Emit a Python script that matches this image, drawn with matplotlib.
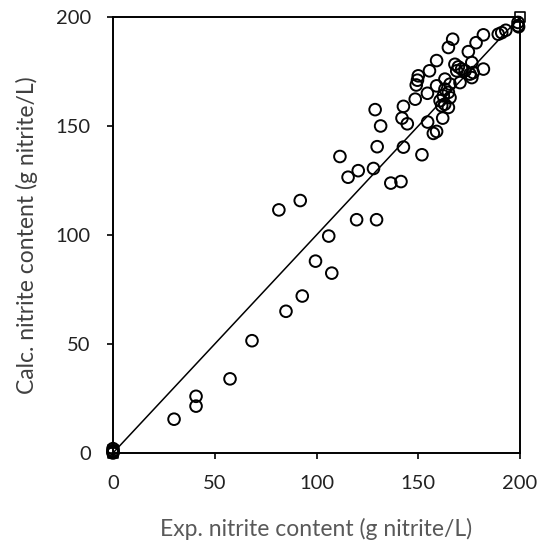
import matplotlib.pyplot as plt

plt.rcParams['font.family'] = ['Lato', 'DejaVu Sans']

exp_vals = [30, 40.8, 40.8, 57.5, 68.3, 85, 93, 99.5, 106, 107.5,
            81.5, 92, 111.5, 115.5, 119.7, 120.5, 128, 129.5, 128.8, 131.5,
            129.8, 136.5, 141.5, 142.7, 142, 144.6, 142.7, 151.8, 154.6, 157.4,
            159, 162, 148.5, 149, 149.6, 150, 154.5, 155.5, 159, 159,
            160.7, 161.5, 163, 164.8, 165.6, 163.1, 164.8, 162.3, 163.1, 165.6,
            164.8, 166.9, 168, 169.7, 171.3, 168.9, 173, 175.4, 177, 170.5,
            176.3, 176.3, 174.6, 178.4, 182, 182, 189.3, 191, 193, 199,
            199, 199.3, 0, 0, 0, 0]
calc_vals = [15.5, 21.5, 26, 34, 51.5, 65, 72, 88, 99.5, 82.5,
             111.5, 115.8, 136, 126.5, 107, 129.5, 130.5, 107, 157.5, 150,
             140.5, 123.8, 124.5, 159, 153.6, 151, 140.3, 136.8, 151.8, 146.6,
             147.5, 153.6, 162.3, 168.8, 171, 173, 165, 175.3, 168.4, 180,
             161.6, 159.3, 160, 158.5, 163, 166.9, 165.4, 163.8, 171.5, 169.2,
             186, 189.8, 178.3, 177.1, 176.1, 175.3, 175.3, 173.8, 174.5, 169.9,
             172.2, 179.1, 184.1, 188.2, 191.8, 176.1, 192.1, 192.8, 193.9, 196,
             197.5, 195.5, 0, 0.5, 1, 2]

sq_exp = [0, 0, 200]
sq_calc = [0, 1, 200]

line_x = [0, 200]
line_y = [0, 200]

fig = plt.figure(figsize=(5.55, 5.44), dpi=100)
ax = fig.add_axes([0.2036, 0.1673, 0.7334, 0.8015])

ax.plot(line_x, line_y, color='black', lw=1.1, zorder=1)
ax.scatter(exp_vals, calc_vals, s=70, facecolors='none', edgecolors='black',
           linewidths=1.4, zorder=2, clip_on=False)
ax.scatter(sq_exp, sq_calc, marker='s', s=60, facecolors='none',
           edgecolors='black', linewidths=1.2, zorder=3, clip_on=False)

ax.set_xlim(0, 200)
ax.set_ylim(0, 200)
ax.set_xticks([0, 50, 100, 150, 200])
ax.set_yticks([0, 50, 100, 150, 200])
for s in ax.spines.values():
    s.set_linewidth(1.4)
ax.tick_params(direction='out', length=4.5, width=1.2, labelsize=14.5,
               colors='black', pad=11.5)
for lab in ax.get_xticklabels() + ax.get_yticklabels():
    lab.set_color('#222222')

# axis titles placed in figure coords
fig.text(316.5 / 555, 1 - 536 / 544, 'Exp. nitrite content (g nitrite/L)',
         fontsize=16.5, color='#595959', ha='center', va='baseline')
fig.text(27 / 555, 1 - 235 / 544, 'Calc. nitrite content (g nitrite/L)',
         fontsize=16.5, color='#404040', ha='center', va='center', rotation=90)

fig.savefig('out.png', dpi=100)
